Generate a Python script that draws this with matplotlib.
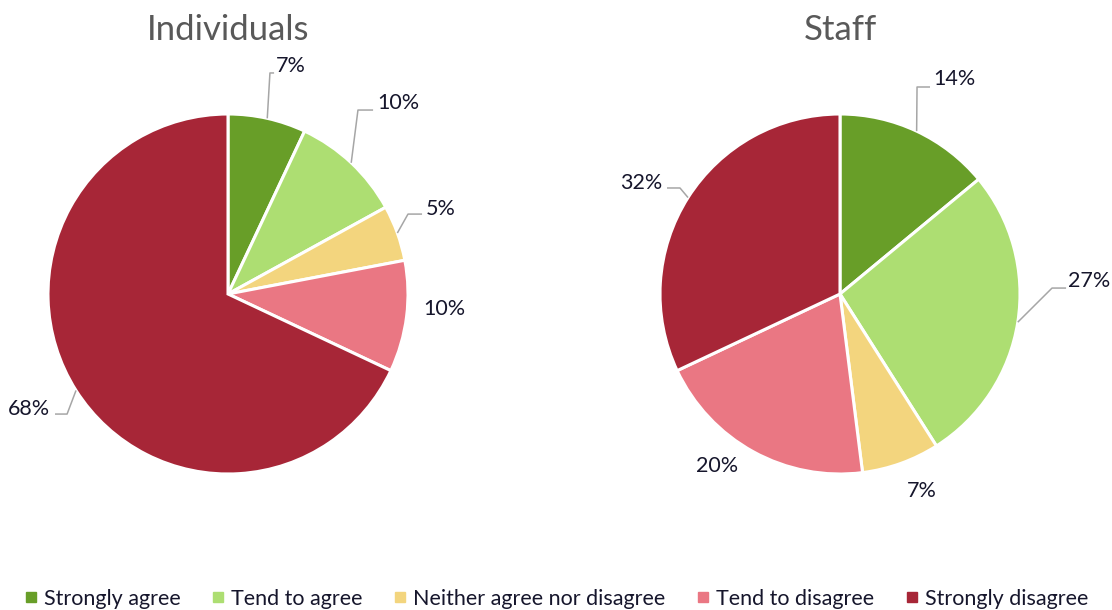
import matplotlib
matplotlib.use("Agg")
import matplotlib.pyplot as plt
from matplotlib.lines import Line2D
import numpy as np

plt.rcParams['font.family'] = ['Lato', 'DejaVu Sans']

categories = ["Strongly agree", "Tend to agree", "Neither agree nor disagree",
              "Tend to disagree", "Strongly disagree"]
colors = ["#689E28", "#ADDE72", "#F3D57E", "#EA7783", "#A72637"]

individuals = [7, 10, 5, 10, 68]
staff = [14, 27, 7, 20, 32]

TEXT = "#16162C"
LEADER = "#A6A6A6"

# Label placement per slice (unit = pie radius): text anchor, alignment, leader elbow + end
ind_layout = [
    dict(xy=(0.267, 1.267), ha="left", leader=[(0.233, 1.228), (0.256, 1.228)]),
    dict(xy=(0.828, 1.061), ha="left", leader=[(0.722, 1.022), (0.806, 1.022)]),
    dict(xy=(1.100, 0.472), ha="left", leader=[(1.000, 0.444), (1.078, 0.444)]),
    dict(xy=(1.083, -0.083), ha="left", leader=None),
    dict(xy=(-0.989, -0.639), ha="right", leader=[(-0.894, -0.667), (-0.961, -0.667)]),
]
staff_layout = [
    dict(xy=(0.517, 1.194), ha="left", leader=[(0.428, 1.150), (0.500, 1.150)]),
    dict(xy=(1.267, 0.072), ha="left", leader=[(1.178, 0.033), (1.256, 0.033)]),
    dict(xy=(0.456, -1.094), ha="center", leader=None),
    dict(xy=(-0.683, -0.956), ha="center", leader=None),
    dict(xy=(-0.989, 0.617), ha="right", leader=[(-0.889, 0.589), (-0.961, 0.589)]),
]

W, H = 1112, 610
fig = plt.figure(figsize=(W / 100, H / 100), dpi=100)


def pie_axes(cx, cy, r):
    return fig.add_axes([(cx - r) / W, (H - cy - r) / H, 2 * r / W, 2 * r / H])


def draw_pie(ax, values, layout, title):
    ax.pie(values, colors=colors, startangle=90, counterclock=False, radius=1.0,
           wedgeprops=dict(edgecolor="white", linewidth=2.2))
    ax.set_xlim(-1, 1)
    ax.set_ylim(-1, 1)
    ax.set_aspect("equal")
    ax.axis("off")
    total = float(sum(values))
    cum = 0.0
    for v, spec in zip(values, layout):
        mid = np.deg2rad(90 - (cum + v / 2) / total * 360)
        cum += v
        tx, ty = spec["xy"]
        ax.text(tx, ty, f"{v}%", ha=spec["ha"], va="center", fontsize=15.5,
                color=TEXT, clip_on=False)
        if spec["leader"]:
            (ex, ey), (fx, fy) = spec["leader"]
            ax.plot([np.cos(mid), ex, fx], [np.sin(mid), ey, fy], color=LEADER,
                    lw=1.1, clip_on=False, solid_capstyle="butt")
    ax.text(0, 1.465, title, ha="center", va="center", fontsize=25,
            color="#595959", clip_on=False)


draw_pie(pie_axes(228, 294, 180), individuals, ind_layout, "Individuals")
draw_pie(pie_axes(840, 294, 180), staff, staff_layout, "Staff")

handles = [Line2D([], [], marker="s", linestyle="none", markersize=7,
                  markerfacecolor=c, markeredgecolor=c) for c in colors]
fig.legend(handles, categories, loc="center", ncol=5,
           bbox_to_anchor=(0.5, 1 - 599 / H), frameon=False, fontsize=15.5,
           handlelength=0.65, handletextpad=0.3, columnspacing=1.4,
           labelcolor=TEXT)

fig.savefig("out.png", dpi=100, facecolor="white")
